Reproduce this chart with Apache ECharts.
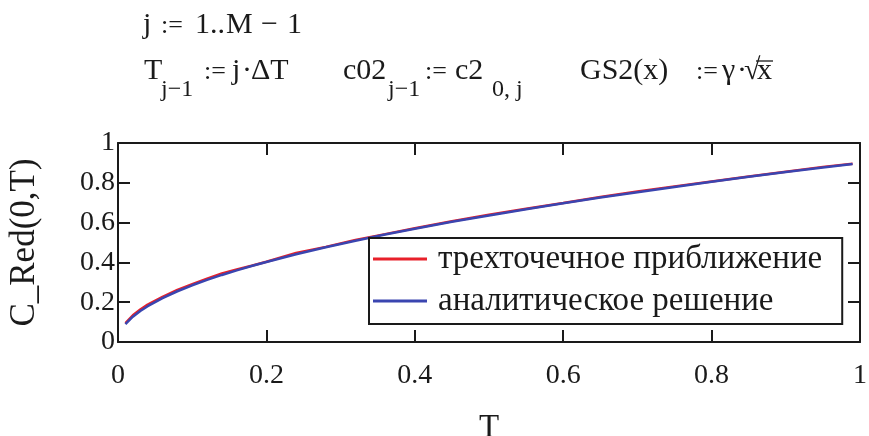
<!DOCTYPE html>
<html>
<head>
<meta charset="utf-8">
<script src="https://cdn.jsdelivr.net/npm/echarts@6/dist/echarts.min.js"></script>
<style>
html,body{margin:0;padding:0;background:#fff;}
#c{width:869px;height:436px;}
</style>
</head>
<body>
<div id="c"></div>
<script>
// ---- data ----
var T = [0.01,0.02,0.03,0.04,0.06,0.08,0.10,0.12,0.14,0.16,0.18,0.20,0.24,0.28,0.32,0.36,0.40,0.45,0.50,0.55,0.60,0.65,0.70,0.75,0.80,0.85,0.90,0.95,0.99];
var threePoint = [0.095,0.134,0.163,0.188,0.227,0.262,0.290,0.318,0.345,0.364,0.383,0.403,0.447,0.478,0.513,0.542,0.572,0.607,0.639,0.670,0.699,0.729,0.756,0.782,0.807,0.832,0.856,0.880,0.896];
var analytic = [0.090,0.127,0.156,0.180,0.220,0.255,0.285,0.312,0.337,0.360,0.382,0.402,0.441,0.476,0.509,0.540,0.569,0.604,0.636,0.667,0.697,0.726,0.753,0.779,0.805,0.830,0.854,0.877,0.895];
var seriesNames = ['трехточечное приближение','аналитическое решение'];

function pairs(xs, ys){ return xs.map(function(x,i){return [x, ys[i]];}); }

var FONT = '"Liberation Serif", "Times New Roman", serif';
var INK = '#1a1a1a';
var chart = echarts.init(document.getElementById('c'));

function txt(x, y, s, size){
  return {type:'text', left:x, top:y, style:{text:s, font: size+'px '+FONT, fill:INK}};
}

var axisCommon = {
  min:0, max:1, interval:0.2,
  axisLine:{show:true, onZero:false, lineStyle:{color:INK, width:2}},
  axisTick:{show:true, inside:true, length:12, lineStyle:{color:INK, width:2}},
  splitLine:{show:false}
};

var M1 = 30, OP = 26, S1 = 24, L1 = 10, L2 = 56, SB = 78;

chart.setOption({
  backgroundColor:'#fff',
  animation:false,
  grid:{left:118, right:9, top:143, bottom:94, containLabel:false, outerBoundsMode:'none'},
  xAxis:[
    Object.assign({}, axisCommon, {type:'value', position:'bottom',
      name:'T', nameLocation:'middle', nameGap:70,
      nameTextStyle:{fontFamily:FONT, fontSize:33, color:INK},
      axisLabel:{fontFamily:FONT, fontSize:28, color:INK, margin:20,
        formatter:function(v){return String(v);}}}),
    Object.assign({}, axisCommon, {type:'value', position:'top', axisLabel:{show:false}})
  ],
  yAxis:[
    Object.assign({}, axisCommon, {type:'value', position:'left',
      name:'C_Red(0,T)', nameLocation:'middle', nameGap:76,
      nameTextStyle:{fontFamily:FONT, fontSize:35, color:INK},
      axisLabel:{fontFamily:FONT, fontSize:28, color:INK, margin:3, padding:[9,0,0,0],
        formatter:function(v){return String(v);}}}),
    Object.assign({}, axisCommon, {type:'value', position:'right', axisLabel:{show:false}})
  ],
  legend:{
    orient:'vertical', left:369, top:238,
    backgroundColor:'#fff',
    borderColor:INK, borderWidth:2, borderRadius:0,
    padding:[4, 20, 6, 4],
    itemGap:8, itemWidth:54, itemHeight:3, icon:'rect',
    textStyle:{fontFamily:FONT, fontSize:33, lineHeight:34, color:INK, padding:[0,0,0,6]},
    data:seriesNames
  },
  series:[
    {name:seriesNames[0], type:'line', showSymbol:false, symbol:'none',
      lineStyle:{color:'#e8202a', width:2.5}, itemStyle:{color:'#e8202a'},
      data:pairs(T, threePoint), z:2},
    {name:seriesNames[1], type:'line', showSymbol:false, symbol:'none',
      lineStyle:{color:'#3a45b0', width:2.5}, itemStyle:{color:'#3a45b0'},
      data:pairs(T, analytic), z:3}
  ],
  graphic:[
    txt(143, L1, 'j', M1),
    txt(161, L1+3, ':=', OP),
    txt(195, L1, '1', M1),
    txt(210, L1, '..', M1),
    txt(226, L1, 'M', M1),
    txt(261, L1, '−', M1),
    txt(287, L1, '1', M1),

    txt(144, L2, 'T', M1),
    txt(161, SB, 'j−1', S1),
    txt(204, L2+3, ':=', OP),
    txt(232, L2, 'j', M1),
    txt(242, L2, '·', M1),
    txt(251, L2, 'ΔT', M1),

    txt(343, L2, 'c02', M1),
    txt(388, SB, 'j−1', S1),
    txt(425, L2+3, ':=', OP),
    txt(455, L2, 'c2', M1),
    txt(492, SB, '0, j', S1),

    txt(580, L2, 'GS2(x)', M1),
    txt(696, L2+3, ':=', OP),
    txt(722, L2, 'γ', M1),
    txt(737, L2, '·', M1),
    txt(744, L2, '√', M1),
    txt(757, L2, 'x', M1),
    {type:'line', shape:{x1:756, y1:61, x2:773, y2:61}, style:{stroke:INK, lineWidth:1.3}}
  ]
});
</script>
</body>
</html>
